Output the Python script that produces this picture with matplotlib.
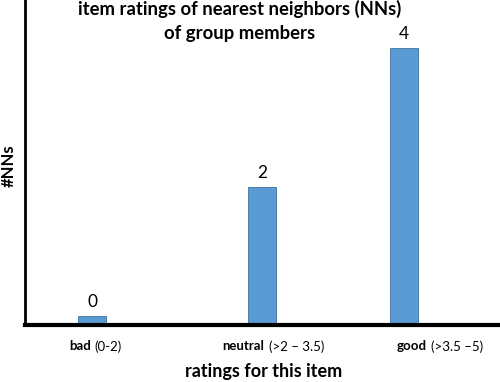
import matplotlib
matplotlib.use("Agg")
import matplotlib.pyplot as plt

plt.rcParams['font.family'] = ['Lato', 'DejaVu Sans']

# данные графика
categories = ["bad", "neutral", "good"]
ranges = ["(0-2)", "(>2 \u2013 3.5)", "(>3.5 \u20135)"]
counts = [0, 2, 4]
# высота, с которой нарисованы столбики (у "0" есть маленький видимый столбик)
drawn_heights = [0.13, 2, 4]
title_lines = ["item ratings of nearest neighbors (NNs)", "of group members"]

# расположение по оси x
positions = [0.67, 2.37, 3.785]
label_centers = [0.67, 2.41, 4.03]

fig = plt.figure(figsize=(5.0, 3.82), dpi=100)
ax = fig.add_axes([25 / 500, 1 - 325 / 382, 475 / 500, 325 / 382])

ax.bar(positions, drawn_heights, width=0.28, color='#5B9BD5',
       edgecolor='#41719C', linewidth=0.6, zorder=2)

for x, h, c in zip(positions, drawn_heights, counts):
    ax.annotate(str(c), (x, h), xytext=(0, 4), textcoords='offset points',
                ha='center', va='bottom', fontsize=12.5)

ax.set_xlim(0, 4.75)
ax.set_ylim(0, 325 / 69.25)
ax.set_xticks([])
ax.set_yticks([])

for s in ['top', 'right']:
    ax.spines[s].set_visible(False)
ax.spines['left'].set_linewidth(2)
ax.spines['bottom'].set_linewidth(3)

# подписи категорий: жирное название + обычный диапазон
for xc, cat, rng in zip(label_centers, categories, ranges):
    ax.annotate(cat, (xc, 0), xytext=(-1, -11), textcoords='offset points',
                ha='right', va='top', fontsize=9.5, fontweight='bold')
    ax.annotate(rng, (xc, 0), xytext=(2, -11), textcoords='offset points',
                ha='left', va='top', fontsize=9.5)

# заголовок двумя строками
fig.text(0.48, 0.999, title_lines[0], ha='center', va='top',
         fontsize=13.3, fontweight='bold')
fig.text(0.48, 0.934, title_lines[1], ha='center', va='top',
         fontsize=13.3, fontweight='bold')
fig.text(0.528, 0.027, "ratings for this item", ha='center', va='center',
         fontsize=13, fontweight='bold')
fig.text(0.018, 0.565, "#NNs", ha='center', va='center', rotation=90,
         fontsize=12, fontweight='bold')

fig.savefig("out.png", dpi=100)
